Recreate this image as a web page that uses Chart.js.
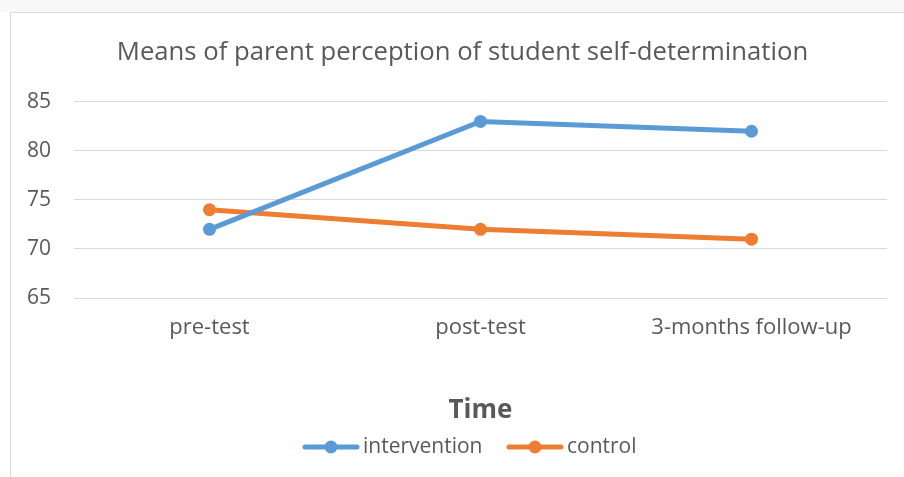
<!DOCTYPE html>
<html>
<head>
<meta charset="utf-8">
<script src="https://cdn.jsdelivr.net/npm/chart.js@4.4.1/dist/chart.umd.min.js"></script>
<style>
  html, body { margin: 0; padding: 0; background: #fff; }
  body { width: 904px; height: 477px; overflow: hidden; position: relative; }
  #strip { position: absolute; left: 0; top: 0; width: 904px; height: 12px; background: #f8f8f8; }
  #frame { position: absolute; left: 10px; top: 12px; width: 904px; height: 465px;
           border-left: 1px solid #d9d9d9; border-top: 1px solid #d9d9d9; }
  canvas { display: block; }
</style>
</head>
<body>
<div id="strip"></div>
<div id="frame"><canvas id="chart" width="903" height="464"></canvas></div>
<script>
const categories = ['pre-test', 'post-test', '3-months follow-up'];
const intervention = [72, 83, 82];
const control = [74, 72, 71];
const yTicks = [65, 70, 75, 80, 85];

const textColor = '#595959';
const fontFamily = '"Open Sans", "Liberation Sans", sans-serif';
const blue = '#5b9bd5';
const orange = '#ed7d31';

// legend marker: short line with a dot, blank space on the left keeps items apart
function legendMarker(color) {
    const c = document.createElement('canvas');
    c.width = 79; c.height = 14;
    const ctx = c.getContext('2d');
    ctx.strokeStyle = color;
    ctx.lineWidth = 5;
    ctx.lineCap = 'round';
    ctx.beginPath();
    ctx.moveTo(24, 7); ctx.lineTo(76, 7);
    ctx.stroke();
    ctx.fillStyle = color;
    ctx.beginPath();
    ctx.arc(50, 7, 6.5, 0, Math.PI * 2);
    ctx.fill();
    return c;
}

new Chart(document.getElementById('chart'), {
    type: 'line',
    data: {
        labels: categories,
        datasets: [
            {
                label: 'intervention',
                data: intervention,
                borderColor: blue,
                backgroundColor: blue,
                borderWidth: 5,
                pointRadius: 6.5,
                pointHoverRadius: 6.5,
                pointBorderWidth: 0,
                fill: false
            },
            {
                label: 'control',
                data: control,
                borderColor: orange,
                backgroundColor: orange,
                borderWidth: 5,
                pointRadius: 6.5,
                pointHoverRadius: 6.5,
                pointBorderWidth: 0,
                fill: false
            }
        ]
    },
    options: {
        responsive: false,
        animation: false,
        layout: { padding: { left: 0, right: 0, top: 0, bottom: 9.5 } },
        scales: {
            x: {
                offset: true,
                grid: { display: false, drawTicks: false },
                border: { display: false },
                ticks: { color: textColor, font: { family: fontFamily, size: 22 }, padding: 17 },
                title: {
                    display: true,
                    text: 'Time',
                    color: textColor,
                    font: { family: fontFamily, size: 26, weight: 'bold', lineHeight: 1 },
                    padding: { top: 39.6, bottom: 2.5 }
                }
            },
            y: {
                min: 65,
                max: 85,
                afterBuildTicks: (axis) => { axis.ticks = yTicks.map(v => ({ value: v })); },
                afterFit: (axis) => { axis.width = 63; },
                grid: { color: '#d9d9d9', lineWidth: 1, drawTicks: false },
                border: { display: false },
                ticks: { color: textColor, font: { family: fontFamily, size: 21 }, padding: 23 }
            },
            // empty right-hand axis, only reserves the blank strip right of the plot
            yRight: {
                position: 'right',
                min: 65,
                max: 85,
                afterFit: (axis) => { axis.width = 27; },
                grid: { display: false, drawTicks: false },
                border: { display: false },
                ticks: { display: false }
            }
        },
        plugins: {
            title: {
                display: true,
                text: 'Means of parent perception of student self-determination',
                color: textColor,
                font: { family: fontFamily, size: 25.7, weight: 'normal' },
                padding: { top: 24, bottom: 34 }
            },
            legend: {
                position: 'bottom',
                labels: {
                    color: textColor,
                    font: { family: fontFamily, size: 21 },
                    usePointStyle: true,
                    pointStyleWidth: 64,
                    boxHeight: 14,
                    padding: 10,
                    generateLabels: (chart) => chart.data.datasets.map((ds, i) => ({
                        text: ds.label,
                        fontColor: textColor,
                        pointStyle: legendMarker(ds.borderColor),
                        datasetIndex: i,
                        lineWidth: 0,
                        hidden: false
                    }))
                }
            },
            tooltip: { enabled: false }
        }
    }
});
</script>
</body>
</html>
